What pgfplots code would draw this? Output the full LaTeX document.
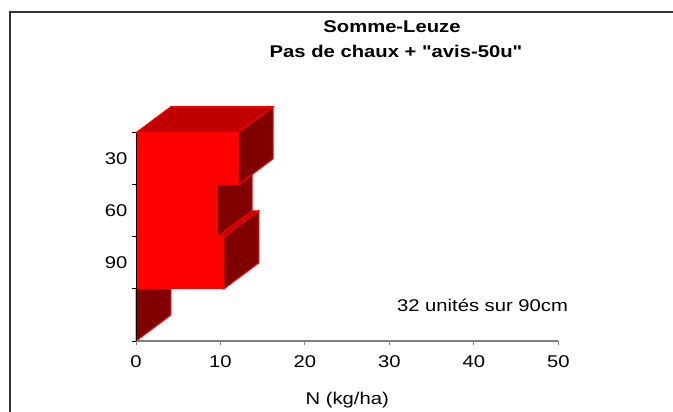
\documentclass[border=0pt]{standalone}
\usepackage{fontspec}
\setmainfont[FakeStretch=1.19, Ligatures=TeXOff]{Liberation Sans}
\usepackage{pgfplots}
\pgfplotsset{compat=1.18}
\definecolor{barfront}{RGB}{255,0,0}
\definecolor{bartop}{RGB}{192,0,0}
\definecolor{barside}{RGB}{128,0,0}
\definecolor{framegray}{RGB}{51,51,51}
\begin{document}
\begin{tikzpicture}[x=1pt,y=1pt]
\useasboundingbox (0,0) rectangle (673,-412);
\draw[line width=2pt, framegray] (10,-414) -- (10,-12) -- (675,-12);
\node[font=\fontsize{17}{20}\selectfont\bfseries, anchor=base] at (392,-33) {Somme-Leuze};
\node[font=\fontsize{17}{20}\selectfont\bfseries, anchor=base] at (396,-58) {Pas de chaux + "avis-50u"};
\node[font=\fontsize{17}{20}\selectfont, anchor=base] at (482.5,-311) {32 unités sur 90cm};
\begin{axis}[
  at={(136pt,-341pt)}, anchor=south west,
  scale only axis, width=422.35pt, height=208.3pt,
  xmin=0, xmax=50, ymin=-4, ymax=0,
  clip=false, axis on top,
  axis x line*=bottom, axis y line*=left,
  axis line style={-},
  x axis line style={draw=gray, line width=1.5pt},
  y axis line style={draw=black, line width=1pt},
  tick align=outside, major tick length=4pt,
  xtick={0,10,...,50},
  xtick style={draw=gray, line width=1pt},
  xticklabel style={yshift=-7pt},
  ytick={-4,-3,-2,-1,0}, yticklabels={{},{},{},{},{}},
  ytick style={draw=black, line width=1pt},
  extra y ticks={-0.5,-1.5,-2.5},
  extra y tick labels={30,60,90},
  extra y tick style={major tick length=0pt, yticklabel style={xshift=-5pt}},
  tick label style={font=\fontsize{17}{20}\selectfont},
  /pgf/number format/assume math mode=true,
  xlabel={N (kg/ha)},
  xlabel style={at={(axis description cs:0.5,0)}, anchor=center, yshift=-59pt, font=\fontsize{17}{20}\selectfont},
]
% top faces
\addplot[fill=bartop, draw=barfront, line width=1pt] coordinates {(0,-2) (10.4,-2) (14.54,-1.5) (4.14,-1.5)} -- cycle;
\addplot[fill=bartop, draw=barfront, line width=1pt] coordinates {(0,-1) (9.6,-1) (13.74,-0.5) (4.14,-0.5)} -- cycle;
\addplot[fill=bartop, draw=barfront, line width=1pt] coordinates {(0,0) (12.1,0) (16.24,0.5) (4.14,0.5)} -- cycle;
% side faces
\addplot[fill=barside, draw=barfront, line width=1pt] coordinates {(0,-3) (4.14,-2.5) (4.14,-3.5) (0,-4)} -- cycle;
\addplot[fill=barside, draw=barfront, line width=1pt] coordinates {(10.4,-2) (14.54,-1.5) (14.54,-2.5) (10.4,-3)} -- cycle;
\addplot[fill=barside, draw=barfront, line width=1pt] coordinates {(9.6,-1) (13.74,-0.5) (13.74,-1.5) (9.6,-2)} -- cycle;
\addplot[fill=barside, draw=barfront, line width=1pt] coordinates {(12.1,0) (16.24,0.5) (16.24,-0.5) (12.1,-1)} -- cycle;
% front faces
\addplot[xbar, bar width=1, fill=barfront, draw=barfront, line width=1pt] coordinates {(12.1,-0.5) (9.6,-1.5) (10.4,-2.5) (0,-3.5)};
\end{axis}
\end{tikzpicture}
\end{document}
